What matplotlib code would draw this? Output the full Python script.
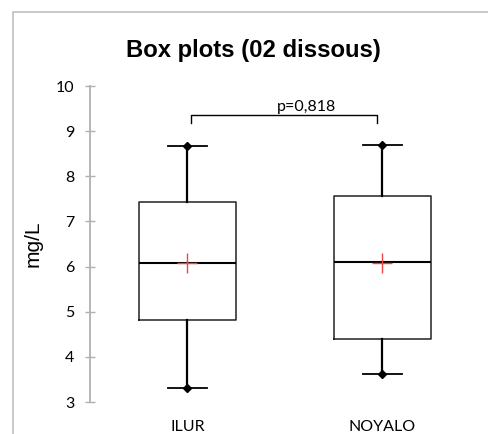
import matplotlib

matplotlib.use("Agg")

import matplotlib.pyplot as plt
from matplotlib.patches import Rectangle

groups = ["ILUR", "NOYALO"]
mins = [3.32, 3.62]
q1s = [4.82, 4.40]
medians = [6.08, 6.10]
q3s = [7.43, 7.57]
maxs = [8.66, 8.70]
means = [6.08, 6.07]
p_text = "p=0,818"

fig = plt.figure(figsize=(4.89, 4.34), dpi=100)
fig.patches.append(Rectangle((13 / 489, -0.1), 1.2, 1 - 12 / 434 + 0.1,
                             transform=fig.transFigure, fill=False,
                             edgecolor="#c0c0c0", linewidth=1.2))
ax = fig.add_axes([90 / 489, 32 / 434, 390 / 489, 316 / 434])

stats = []
for i, name in enumerate(groups):
    stats.append({"label": name, "whislo": mins[i], "q1": q1s[i], "med": medians[i],
                  "q3": q3s[i], "whishi": maxs[i], "mean": means[i], "fliers": []})

ax.bxp(stats, positions=[0, 1], widths=0.5, showmeans=True, showfliers=False,
       boxprops=dict(color="#222222", linewidth=1.1),
       medianprops=dict(color="black", linewidth=1.5),
       whiskerprops=dict(color="black", linewidth=1.6),
       capprops=dict(color="black", linewidth=1.3),
       capwidths=0.2,
       meanprops=dict(marker="+", markeredgecolor="#f04545", markersize=14,
                      markeredgewidth=1.0))
ax.plot([0, 1], mins, "D", color="black", markersize=4.5, linestyle="none")
ax.plot([0, 1], maxs, "D", color="black", markersize=4.5, linestyle="none")

# significance bracket
ax.plot([0.02, 0.02, 0.97, 0.97], [9.18, 9.36, 9.36, 9.18], color="black", linewidth=1.0)
ax.text(0.61, 9.37, p_text, ha="center", va="bottom", fontsize=11.5, family="Lato")

ax.set_xlim(-0.5, 1.5)
ax.set_ylim(3, 10)
ax.set_yticks(range(3, 11))
ax.tick_params(axis="y", direction="inout", length=7, width=1, color="#b0b0b0",
               labelsize=11.5, pad=8)
ax.tick_params(axis="x", length=0, pad=13, labelsize=11.5)
for lab in ax.get_xticklabels():
    lab.set_family("Lato")
for lab in ax.get_yticklabels():
    lab.set_family("Lato")
for side in ["top", "right", "bottom"]:
    ax.spines[side].set_visible(False)
ax.spines["left"].set_color("#b0b0b0")
ax.spines["left"].set_linewidth(1.3)

ax.set_ylabel("mg/L", family="Liberation Sans", fontsize=15, labelpad=9)
fig.text(253 / 489, 1 - 51 / 434, "Box plots (02 dissous)", ha="center", va="center",
         family="Liberation Sans", fontweight="bold", fontsize=17.2)

fig.savefig("out.png", dpi=100)
